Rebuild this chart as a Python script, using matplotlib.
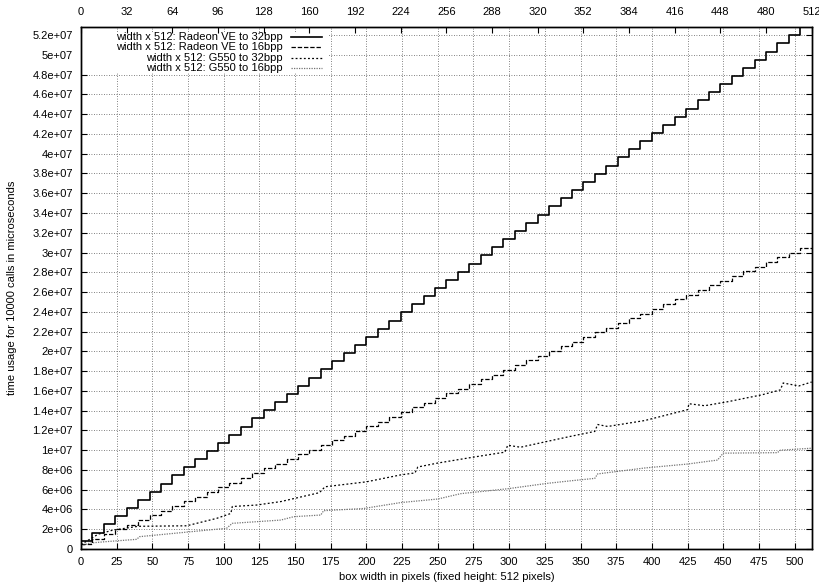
import matplotlib.pyplot as plt
from matplotlib.patches import Rectangle
from matplotlib.lines import Line2D

plt.rcParams['font.family'] = ['Liberation Sans', 'DejaVu Sans']
plt.rcParams['font.size'] = 8

# Radeon VE timings climb in steps every 8 pixels of width (values in 1e6 us)
step_edges = list(range(0, 513, 8))
radeon_32 = [0.84, 1.67, 2.49, 3.32, 4.14, 4.97, 5.79, 6.62, 7.44, 8.27,
             9.09, 9.92, 10.74, 11.57, 12.39, 13.22, 14.04, 14.87, 15.69, 16.52,
             17.34, 18.17, 18.99, 19.82, 20.64, 21.47, 22.29, 23.12, 23.94, 24.77,
             25.59, 26.42, 27.24, 28.07, 28.89, 29.72, 30.54, 31.37, 32.19, 33.02,
             33.84, 34.67, 35.49, 36.32, 37.14, 37.97, 38.79, 39.62, 40.44, 41.27,
             42.09, 42.92, 43.74, 44.57, 45.39, 46.22, 47.04, 47.87, 48.69, 49.52,
             50.34, 51.17, 51.99, 52.82]
radeon_16 = [0.55, 1.03, 1.50, 1.98, 2.45, 2.93, 3.40, 3.88, 4.35, 4.83,
             5.30, 5.78, 6.25, 6.73, 7.20, 7.68, 8.15, 8.63, 9.10, 9.58,
             10.05, 10.53, 11.00, 11.48, 11.95, 12.40, 12.90, 13.38, 13.85, 14.33,
             14.80, 15.28, 15.75, 16.23, 16.70, 17.18, 17.65, 18.13, 18.60, 19.08,
             19.55, 20.03, 20.50, 20.98, 21.45, 21.93, 22.40, 22.88, 23.35, 23.83,
             24.30, 24.78, 25.25, 25.73, 26.20, 26.68, 27.15, 27.63, 28.10, 28.58,
             29.05, 29.53, 30.00, 30.48]

# G550 timings: mostly linear with small jumps
g550_32_w = [0, 12, 22, 40, 74, 95, 105, 106, 123, 140, 167, 171, 200, 224, 234,
             236, 250, 275, 297, 299, 308, 327, 343, 360, 362, 369, 395, 425,
             426, 437, 453, 477, 490, 492, 503, 512]
g550_32 = [0.45, 1.5, 1.9, 2.3, 2.35, 3.1, 3.6, 4.3, 4.45, 4.8, 5.7, 6.3, 6.8, 7.5, 7.7,
           8.3, 8.7, 9.3, 9.8, 10.5, 10.3, 10.9, 11.4, 11.9, 12.6, 12.4, 13.0, 14.1,
           14.7, 14.5, 14.9, 15.6, 16.1, 16.8, 16.5, 16.9]
g550_16_w = [0, 6, 17, 39, 41, 102, 106, 140, 149, 168, 170, 198, 224, 250, 266,
             299, 327, 343, 360, 362, 395, 425, 446, 450, 488, 490, 512]
g550_16 = [0.3, 0.6, 0.74, 0.98, 1.25, 2.1, 2.6, 2.93, 3.27, 3.44, 3.88, 4.1, 4.7,
           5.06, 5.6, 6.1, 6.65, 6.9, 7.15, 7.6, 8.2, 8.6, 9.0, 9.7, 9.75, 10.0, 10.2]

labels = ['width x 512: Radeon VE to 32bpp', 'width x 512: Radeon VE to 16bpp',
          'width x 512: G550 to 32bpp', 'width x 512: G550 to 16bpp']

fig = plt.figure(figsize=(8.2, 5.86), dpi=100)
ax = fig.add_axes([0.0988, 0.0631, 0.8911, 0.8908])

styles = [dict(color='black', lw=1.2, ls='-'),
          dict(color='black', lw=0.9, ls=(0, (3.5, 1.5))),
          dict(color='black', lw=0.9, ls=(0, (1.5, 1.8))),
          dict(color='0.45', lw=0.9, ls=(0, (1, 1)))]

ax.step(step_edges, [v * 1e6 for v in radeon_32 + radeon_32[-1:]], where='post', **styles[0])
ax.step(step_edges, [v * 1e6 for v in radeon_16 + radeon_16[-1:]], where='post', **styles[1])
ax.plot(g550_32_w, [v * 1e6 for v in g550_32], **styles[2])
ax.plot(g550_16_w, [v * 1e6 for v in g550_16], **styles[3])

ax.set_xlim(0, 512)
ax.set_ylim(0, max(radeon_32) * 1e6)
ax.set_xticks(range(0, 501, 25))
yt = [i * 2e6 for i in range(27)]
ax.set_yticks(yt)
ax.set_yticklabels(['%g' % v for v in yt])
ax.tick_params(direction='in', length=4, width=0.8, right=True, top=False, pad=6)
ax.set_axisbelow(True)
ax.grid(True, color='0.35', lw=0.6, ls=(0, (1, 2)))

ax2 = ax.twiny()
ax2.set_xlim(0, 512)
ax2.set_xticks(range(0, 513, 32))
ax2.tick_params(direction='in', length=4, width=0.8, pad=7)

for a in (ax, ax2):
    for s in a.spines.values():
        s.set_linewidth(1.0)

ax.set_xlabel('box width in pixels (fixed height: 512 pixels)', labelpad=3)
ax.set_ylabel('time usage for 10000 calls in microseconds', labelpad=11)

# key in gnuplot style: right-justified text, sample to the right, opaque
ax.add_patch(Rectangle((0, 0.914), 0.338, 0.076, transform=ax.transAxes,
                       facecolor='white', edgecolor='none', zorder=1))
rows = [0.981, 0.961, 0.940, 0.921]
for lab, st, yr in zip(labels, styles, rows):
    ax.text(0.2765, yr, lab, transform=ax.transAxes, ha='right', va='center', zorder=3)
    ax.add_line(Line2D([0.287, 0.33], [yr, yr], transform=ax.transAxes, zorder=3, **st))

fig.savefig('out.png', dpi=100)
